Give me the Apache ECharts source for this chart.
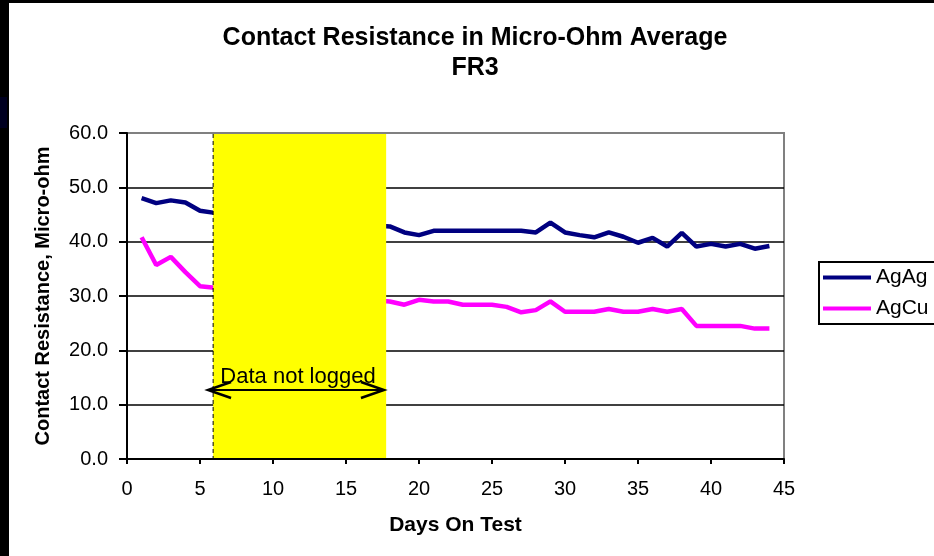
<!DOCTYPE html>
<html>
<head>
<meta charset="utf-8">
<script src="https://cdn.jsdelivr.net/npm/echarts@6/dist/echarts.min.js"></script>
<style>
  html, body { margin: 0; padding: 0; background: #fff; }
  #chart { width: 934px; height: 556px; }
</style>
</head>
<body>
<div id="chart"></div>
<script>
// days with readings (days 7-17 not logged)
var days = [1, 2, 3, 4, 5, 6,
  18, 19, 20, 21, 22, 23, 24, 25, 26, 27, 28, 29, 30, 31,
  32, 33, 34, 35, 36, 37, 38, 39, 40, 41, 42, 43, 44];
var agag = [48.0, 47.1, 47.6, 47.2, 45.7, 45.3,
  42.8, 41.7, 41.2, 42.0, 42.0, 42.0, 42.0, 42.0, 42.0, 42.0, 41.7, 43.5, 41.7, 41.2,
  40.8, 41.7, 40.9, 39.8, 40.7, 39.1, 41.6, 39.1, 39.6, 39.1, 39.6, 38.7, 39.2];
var agcu = [40.8, 35.7, 37.2, 34.4, 31.8, 31.5,
  29.0, 28.4, 29.3, 29.0, 29.0, 28.4, 28.4, 28.4, 28.0, 27.0, 27.4, 29.0, 27.1, 27.1,
  27.1, 27.6, 27.1, 27.1, 27.6, 27.1, 27.6, 24.5, 24.5, 24.5, 24.5, 24.0, 24.0];
var seriesNames = ['AgAg', 'AgCu'];
var xTicks = { min: 0, max: 45, interval: 5 };
var yTicks = { min: 0, max: 60, interval: 10 };
// "not logged" band, in days
var gap = [5.9, 17.75];
var gapNote = 'Data not logged';

function pairs(vals) {
  return days.map(function (d, i) { return [d, vals[i]]; });
}

var chart = echarts.init(document.getElementById('chart'));
var font = 'Liberation Sans, Arial, sans-serif';

var option = {
  backgroundColor: '#ffffff',
  animation: false,
  textStyle: { fontFamily: font, color: '#000' },
  title: {
    text: 'Contact Resistance in Micro-Ohm Average\nFR3',
    left: 470,
    textAlign: 'center',
    top: 18,
    textStyle: { fontFamily: font, fontSize: 25, fontWeight: 'bold', color: '#000', lineHeight: 30 }
  },
  legend: {
    data: seriesNames,
    orient: 'vertical',
    left: 819,
    top: 262,
    icon: 'rect',
    itemWidth: 48,
    itemHeight: 4,
    itemGap: 10,
    padding: [5, 30, 5, 4],
    borderColor: '#000',
    borderWidth: 2,
    textStyle: { fontFamily: font, fontSize: 21, color: '#000' }
  },
  grid: {
    left: 127, right: 150, top: 133, bottom: 97,
    show: true, borderColor: '#808080', borderWidth: 2, backgroundColor: '#fff'
  },
  xAxis: {
    type: 'value',
    min: xTicks.min, max: xTicks.max, interval: xTicks.interval,
    name: 'Days On Test',
    nameLocation: 'middle',
    nameGap: 56,
    nameTextStyle: { fontFamily: font, fontSize: 21, fontWeight: 'bold', color: '#000' },
    axisLine: { lineStyle: { color: '#000', width: 2 } },
    axisTick: { length: 5, lineStyle: { color: '#000', width: 2 } },
    axisLabel: { margin: 20, fontSize: 20, color: '#000', fontFamily: font },
    splitLine: { show: false }
  },
  yAxis: {
    type: 'value',
    min: yTicks.min, max: yTicks.max, interval: yTicks.interval,
    name: 'Contact Resistance, Micro-ohm',
    nameLocation: 'middle',
    nameGap: 74,
    nameTextStyle: { fontFamily: font, fontSize: 20, fontWeight: 'bold', color: '#000' },
    axisLine: { show: true, lineStyle: { color: '#000', width: 2 } },
    axisTick: { show: true, length: 8, lineStyle: { color: '#000', width: 2 } },
    axisLabel: {
      margin: 19, fontSize: 20, color: '#000', fontFamily: font,
      formatter: function (v) { return v.toFixed(1); }
    },
    splitLine: {
      lineStyle: { color: ['#000', '#000', '#000', '#000', '#000', '#000', '#808080'], width: 1.5 }
    }
  },
  graphic: [
    { type: 'rect', left: 0, top: 0, shape: { width: 9, height: 556 }, style: { fill: '#000' }, z: 100 },
    { type: 'rect', left: 0, top: 0, shape: { width: 934, height: 3 }, style: { fill: '#000' }, z: 100 },
    { type: 'rect', left: 0, top: 97, shape: { width: 7, height: 31 }, style: { fill: '#000020' }, z: 101 }
  ],
  series: [
    {
      name: seriesNames[0],
      type: 'line',
      data: pairs(agag),
      showSymbol: false,
      symbol: 'none',
      color: '#000080',
      lineStyle: { width: 4.5, color: '#000080' },
      z: 2
    },
    {
      name: seriesNames[1],
      type: 'line',
      data: pairs(agcu),
      showSymbol: false,
      symbol: 'none',
      color: '#ff00ff',
      lineStyle: { width: 4.5, color: '#ff00ff' },
      z: 2
    },
    {
      type: 'custom',
      silent: true,
      z: 5,
      data: [[gap[0], gap[1]]],
      renderItem: function (params, api) {
        var x0 = api.value(0), x1 = api.value(1);
        var tl = api.coord([x0, yTicks.max]);
        var br = api.coord([x1, yTicks.min]);
        var arrowY = api.coord([x0, 12.7])[1];
        var aL = api.coord([5.55, 12.7])[0];
        var aR = api.coord([17.6, 12.7])[0];
        var mid = (aL + aR) / 2;
        return {
          type: 'group',
          children: [
            { type: 'rect', shape: { x: tl[0], y: tl[1] + 1, width: br[0] - tl[0], height: br[1] - tl[1] - 2 },
              style: { fill: '#ffff00' } },
            { type: 'line', shape: { x1: tl[0], y1: tl[1] + 1, x2: tl[0], y2: br[1] },
              style: { stroke: '#000', lineWidth: 1, lineDash: [4, 3] } },
            { type: 'polyline', shape: { points: [[aL + 23, arrowY - 8], [aL, arrowY], [aL + 23, arrowY + 8]] },
              style: { stroke: '#000', lineWidth: 2.5, fill: null } },
            { type: 'polyline', shape: { points: [[aR - 23, arrowY - 8], [aR, arrowY], [aR - 23, arrowY + 8]] },
              style: { stroke: '#000', lineWidth: 2.5, fill: null } },
            { type: 'line', shape: { x1: aL, y1: arrowY, x2: aR, y2: arrowY },
              style: { stroke: '#000', lineWidth: 2 } },
            { type: 'text', x: mid + 2, y: arrowY - 2,
              style: { text: gapNote, fill: '#000', font: '22px ' + font, align: 'center', verticalAlign: 'bottom' } }
          ]
        };
      }
    }
  ]
};

chart.setOption(option);
</script>
</body>
</html>
